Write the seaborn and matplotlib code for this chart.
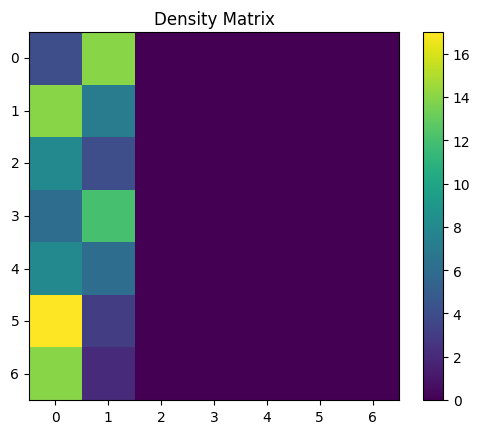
import matplotlib
matplotlib.use("Agg")
import matplotlib.pyplot as plt
import numpy as np
import seaborn as sns

# Valores de la matriz (solo las dos primeras columnas son no nulas)
col0 = [4, 14, 8, 6, 8, 17, 14]
col1 = [14, 7, 4, 12, 6, 3, 2]
n = 7
labels = [str(i) for i in range(n)]

density = np.zeros((n, n))
density[:, 0] = col0
density[:, 1] = col1

fig = plt.figure(figsize=(4.78, 4.35), dpi=100)
ax = fig.add_axes([29 / 478, 34 / 435, 370 / 478, 368 / 435])
cax = fig.add_axes([423 / 478, 34 / 435, 20 / 478, 368 / 435])

sns.heatmap(density, ax=ax, cbar_ax=cax, cmap="viridis", vmin=0, vmax=17,
            xticklabels=labels, yticklabels=labels, square=False)

ax.set_title("Density Matrix")
ax.tick_params(axis="both", length=3.5, width=0.8, labelsize=10)
ax.set_yticklabels(labels, rotation=0)
ax.set_xticklabels(labels, rotation=0)
for s in ax.spines.values():
    s.set_visible(True)
    s.set_linewidth(0.8)

cbar = ax.collections[0].colorbar
cbar.set_ticks(range(0, 17, 2))
cbar.outline.set_linewidth(0.8)
cbar.outline.set_visible(True)
cax.tick_params(length=3.5, width=0.8, labelsize=10)

fig.savefig("out.png", dpi=100)
